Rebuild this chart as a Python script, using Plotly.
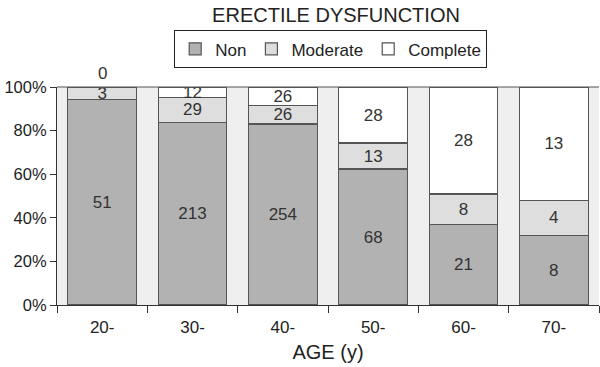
import numpy as np
import plotly.graph_objects as go

ages = ["20-", "30-", "40-", "50-", "60-", "70-"]
non = [51, 213, 254, 68, 21, 8]
moderate = [3, 29, 26, 13, 8, 4]
complete = [0, 12, 26, 28, 28, 13]

total = np.array(non) + np.array(moderate) + np.array(complete)

series = [
    ("Non", non, "#b2b2b2"),
    ("Moderate", moderate, "#dedede"),
    ("Complete", complete, "#ffffff"),
]

fig = go.Figure()
base = np.zeros(len(ages))
for name, counts, color in series:
    pct = np.array(counts) / total * 100
    fig.add_trace(go.Bar(
        x=ages, y=pct, name=name,
        marker=dict(color=color, line=dict(color="#555555", width=1.2)),
        text=[str(c) if c else "" for c in counts],
        textposition="inside", insidetextanchor="middle",
        textangle=0, constraintext="none",
        textfont=dict(size=17, color="#333333"),
        hoverinfo="skip",
    ))
    base = base + pct
    # zero counts have no height, so put their label just above the stack
    for age, c, top in zip(ages, counts, base):
        if c == 0:
            fig.add_annotation(x=age, y=top, text=str(c), showarrow=False,
                               yanchor="bottom", yshift=2,
                               font=dict(size=17, color="#333333"))

fig.update_layout(
    barmode="stack",
    bargap=0.24,
    width=600, height=367,
    margin=dict(l=57, r=1, t=87, b=62),
    paper_bgcolor="white",
    plot_bgcolor="#efefef",
    font=dict(family="Liberation Sans, Arial, sans-serif", size=16, color="#222222"),
    title=dict(text="ERECTILE DYSFUNCTION", x=0.56, xanchor="center",
               y=0.96, yanchor="middle", font=dict(size=20)),
    legend=dict(orientation="h", x=0.505, xanchor="center", y=1.26, yanchor="top",
                bordercolor="#222222", borderwidth=1, bgcolor="white",
                font=dict(size=17), traceorder="normal"),
    showlegend=True,
)
fig.update_xaxes(
    showline=True, linecolor="#333333", linewidth=1.2,
    ticks="outside", tickson="boundaries", ticklen=7, tickcolor="#333333",
    ticklabelstandoff=6,
    showgrid=False,
    title=dict(text="AGE (y)", font=dict(size=20), standoff=9),
    tickfont=dict(size=17),
)
fig.update_yaxes(
    range=[0, 100], dtick=20, ticksuffix="%",
    showline=True, linecolor="#333333", linewidth=1.2,
    ticks="outside", ticklen=6, tickcolor="#333333",
    showgrid=False, zeroline=False,
    tickfont=dict(size=16.5),
)
fig.add_shape(type="line", xref="paper", yref="paper", x0=0, x1=1, y0=1, y1=1,
              line=dict(color="#555555", width=1.2))

fig.write_html("out.html", config={"displayModeBar": False},
               post_script="document.body.style.margin='0';")
